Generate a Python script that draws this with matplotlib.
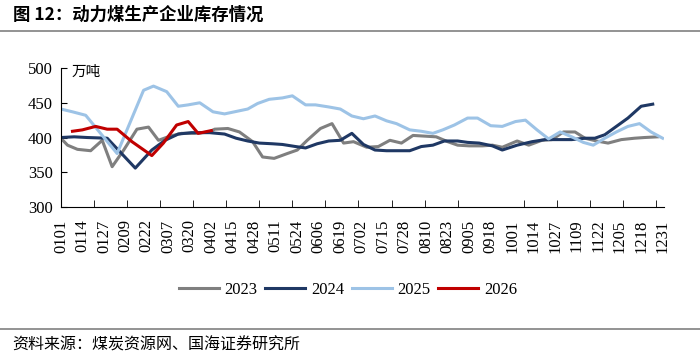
import matplotlib
matplotlib.use("Agg")
import matplotlib.pyplot as plt
from matplotlib.lines import Line2D
from matplotlib.ticker import MultipleLocator

plt.rcParams['font.family'] = ['Liberation Serif', 'Noto Sans CJK SC']

# 库存数据（万吨），横轴为一年中的第几天（0 = 0101）
days_2023 = [0, 4, 10, 18, 25, 31, 38, 46, 53, 59, 66, 73, 81, 90, 93, 101, 108, 116,
             122, 129, 137, 143, 149, 157, 164, 171, 177, 185, 192, 199, 206, 213, 220,
             227, 234, 240, 247, 255, 261, 267, 276, 283, 291, 297, 304, 311, 317, 324,
             331, 339, 347, 353, 361]
vals_2023 = [399, 389, 383, 381, 396, 358, 382, 412, 415, 396, 402, 406, 406, 408, 412,
             413, 408, 394, 372, 370, 377, 382, 396, 413, 420, 392, 394, 386, 387, 396,
             392, 403, 402, 401, 394, 389, 388, 388, 389, 386, 395, 389, 396, 397, 408,
             408, 399, 395, 392, 397, 399, 400, 401]

days_2024 = [0, 8, 16, 28, 45, 55, 63, 71, 79, 90, 99, 106, 113, 120, 128, 134, 142,
             148, 155, 162, 169, 176, 183, 190, 197, 205, 211, 218, 225, 232, 240, 246,
             253, 261, 267, 276, 285, 293, 302, 309, 317, 323, 329, 336, 343, 351, 358]
vals_2024 = [400, 401, 400, 399, 356, 382, 396, 405, 407, 407, 405, 399, 395, 392, 391,
             390, 387, 385, 391, 395, 396, 406, 390, 382, 381, 381, 381, 387, 389, 395,
             395, 393, 392, 388, 382, 389, 394, 397, 397, 397, 399, 399, 404, 416, 428,
             445, 448]

days_2025 = [0, 7, 15, 34, 50, 56, 64, 71, 77, 84, 92, 99, 105, 113, 119, 126, 134,
             140, 148, 154, 162, 169, 176, 183, 190, 197, 203, 211, 218, 225, 231, 238,
             246, 252, 260, 267, 275, 281, 288, 295, 302, 309, 316, 322, 329, 336, 343,
             350, 357, 364]
vals_2025 = [441, 437, 432, 377, 468, 474, 466, 445, 447, 450, 437, 434, 437, 441, 449,
             455, 457, 460, 447, 447, 444, 441, 431, 427, 431, 424, 420, 411, 409, 406,
             411, 418, 428, 428, 417, 416, 423, 425, 411, 398, 408, 401, 393, 389, 399,
             408, 416, 420, 408, 399]

days_2026 = [7, 13, 21, 28, 34, 43, 55, 62, 70, 77, 83, 91]
vals_2026 = [409, 411, 416, 412, 412, 394, 374, 392, 418, 423, 406, 410]

tick_labels = ['0101', '0114', '0127', '0209', '0222', '0307', '0320', '0402', '0415',
               '0428', '0511', '0524', '0606', '0619', '0702', '0715', '0728', '0810',
               '0823', '0905', '0918', '1001', '1014', '1027', '1109', '1122', '1205',
               '1218', '1231']

fig = plt.figure(figsize=(7, 3.6), dpi=100)
ax = fig.add_axes([0.087, 0.425, 0.862, 0.386])

ax.plot(days_2023, vals_2023, color='#7f7f7f', lw=2.2, label='2023')
ax.plot(days_2024, vals_2024, color='#1f3864', lw=2.2, label='2024')
ax.plot(days_2025, vals_2025, color='#9dc3e6', lw=2.2, label='2025')
ax.plot(days_2026, vals_2026, color='#c00000', lw=2.2, label='2026')

ax.set_xlim(0, 365)
ax.set_ylim(300, 500)
ax.yaxis.set_major_locator(MultipleLocator(50))
ax.tick_params(axis='y', direction='in', length=4, labelsize=12, pad=6)

ax.set_xticks([13 * i for i in range(len(tick_labels))])
ax.set_xticklabels(tick_labels, rotation=90, fontsize=12)
ax.set_xticks(range(0, 361, 20), minor=True)
ax.tick_params(axis='x', which='major', length=0, pad=9)
ax.tick_params(axis='x', which='minor', direction='in', length=5)

for s in ['top', 'right']:
    ax.spines[s].set_visible(False)

ax.text(0.017, 0.97, '万吨', transform=ax.transAxes, fontsize=10.5,
        family=['Noto Sans CJK SC'], va='center', ha='left')

fig.legend(loc='center', bbox_to_anchor=(0.497, 0.194), ncol=4, frameon=False,
           fontsize=12, handlelength=2.4, handletextpad=0.35, columnspacing=0.45)

fig.text(0.018, 0.958, '图 12：动力煤生产企业库存情况', fontsize=12.5, fontweight='bold',
         family=['Noto Sans CJK SC'], va='center', ha='left')
fig.add_artist(Line2D([0, 1], [1 - 31 / 360, 1 - 31 / 360], color='#808080', lw=1.2))
fig.add_artist(Line2D([0, 1], [1 - 329 / 360, 1 - 329 / 360], color='#808080', lw=1.2))
fig.text(0.018, 1 - 345 / 360, '资料来源：煤炭资源网、国海证券研究所', fontsize=11.5,
         family=['Noto Sans CJK SC'], va='center', ha='left')

fig.savefig('out.png', dpi=100)
